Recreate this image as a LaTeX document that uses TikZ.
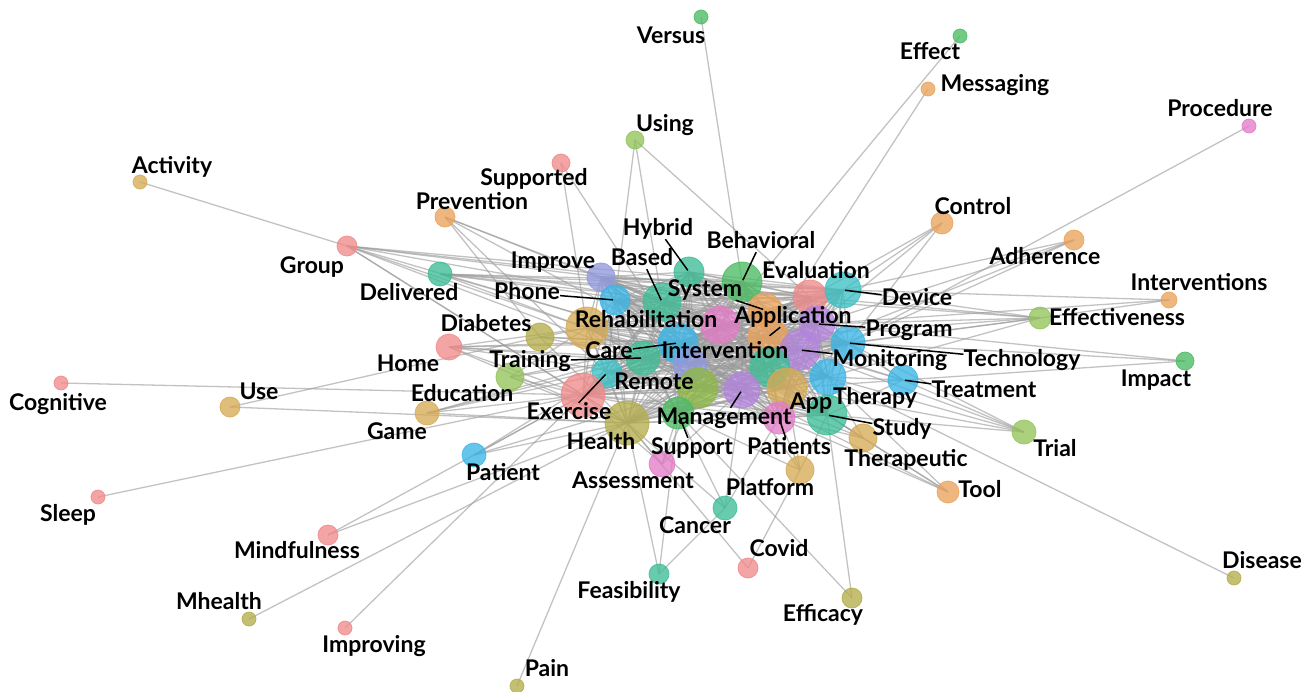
\documentclass[tikz,border=0pt]{standalone}
\usepackage{fontspec}
\setmainfont{Lato}
\pgfdeclarelayer{bg}
\pgfsetlayers{bg,main}
\definecolor{cred}{HTML}{F08A8A}
\definecolor{corange}{HTML}{EBA35C}
\definecolor{cmust}{HTML}{D6AA55}
\definecolor{colive}{HTML}{B3AD4C}
\definecolor{clime}{HTML}{93C35A}
\definecolor{cgreenol}{HTML}{8DB845}
\definecolor{cgreen}{HTML}{4CBB63}
\definecolor{cteal}{HTML}{3DBD96}
\definecolor{ccyt}{HTML}{3CC0C4}
\definecolor{ccyan}{HTML}{3BB5E6}
\definecolor{clav}{HTML}{9199DE}
\definecolor{cpurp}{HTML}{B384DD}
\definecolor{cpink}{HTML}{E37CC6}
\definecolor{cedge}{HTML}{9A9A9A}
\tikzset{
  vtx/.style={circle, inner sep=0pt, fill opacity=0.78, draw opacity=0.85, line width=0.8pt},
  edge/.style={draw=cedge, line width=1.3pt, opacity=0.6},
  lab/.style={inner sep=0pt, text height=16.5pt, text depth=3.5pt, font=\fontsize{23}{23}\selectfont\bfseries, text=black},
  leader/.style={draw=black, line width=1.5pt, shorten >=2pt}
}
\newcommand\vtx[5]{\node[vtx, minimum size=#4*2pt, fill=#5, draw=#5] (#1) at (#2,#3) {};}
\begin{document}
\begin{tikzpicture}[x=1pt,y=-1pt]
\useasboundingbox (0,0) rectangle (1311,691);
% core nodes
\vtx{improve}{601}{277}{14}{clav}
\vtx{phone}{615}{300}{15}{ccyan}
\vtx{based}{662}{302}{19}{cteal}
\vtx{hybrid}{689}{272}{15}{cteal}
\vtx{behav}{742}{282}{20}{cgreen}
\vtx{evalu}{810}{297}{17}{cred}
\vtx{device}{843}{290}{18}{ccyt}
\vtx{system}{765}{310}{17}{corange}
\vtx{pinka}{720}{325}{19}{cpink}
\vtx{program}{817}{324}{18}{cpurp}
\vtx{appl}{768}{337}{20}{corange}
\vtx{techn}{848}{343}{17}{ccyan}
\vtx{monit}{800}{350}{20}{cpurp}
\vtx{rehab}{587}{328}{21}{cmust}
\vtx{care}{678}{343}{20}{ccyan}
\vtx{nlav}{690}{365}{17}{clav}
\vtx{training}{643}{358}{17}{cteal}
\vtx{nteal}{770}{367}{20}{cteal}
\vtx{therapy}{828}{377}{18}{ccyan}
\vtx{treat}{903}{380}{15}{ccyan}
\vtx{exer}{607}{373}{15}{ccyt}
\vtx{reda}{583}{395}{22}{cred}
\vtx{nlime}{698}{388}{20}{cgreenol}
\vtx{manage}{742}{390}{18}{cpurp}
\vtx{nmust}{787}{388}{20}{cmust}
\vtx{study}{827}{415}{20}{cteal}
\vtx{patients}{779}{418}{16}{cpink}
\vtx{support}{678}{413}{16}{cgreen}
\vtx{health}{627}{423}{22}{colive}
\vtx{therap}{863}{438}{14}{cmust}
\vtx{platform}{800}{470}{14}{cmust}
\vtx{assess}{662}{464}{13}{cpink}
\vtx{cancer}{725}{508}{12}{cteal}
\vtx{diab}{540}{337}{14}{colive}
\vtx{home}{449}{347}{13}{cred}
\vtx{educ}{510}{377}{14}{clime}
\vtx{deliv}{440}{274}{12}{cteal}
\vtx{group}{347}{246}{10}{cred}
\vtx{game}{427}{413}{12}{cmust}
\vtx{patient}{474}{455}{12}{ccyan}
% outer nodes
\vtx{effective}{1040}{318}{11}{clime}
\vtx{control}{942}{223}{11}{corange}
\vtx{adher}{1074}{240}{10}{corange}
\vtx{interv}{1169}{300}{8}{corange}
\vtx{impact}{1185}{361}{9}{cgreen}
\vtx{trial}{1024}{432}{12}{clime}
\vtx{tool}{948}{492}{11}{corange}
\vtx{disease}{1234}{578}{7}{colive}
\vtx{efficacy}{852}{598}{10}{colive}
\vtx{covid}{748}{568}{10}{cred}
\vtx{feas}{659}{574}{10}{cteal}
\vtx{pain}{517}{686}{7}{colive}
\vtx{improving}{345}{628}{7}{cred}
\vtx{mhealth}{249}{619}{7}{colive}
\vtx{mindful}{328}{535}{10}{cred}
\vtx{sleep}{98}{497}{7}{cred}
\vtx{use}{230}{407}{10}{cmust}
\vtx{cognitive}{61}{383}{7}{cred}
\vtx{activity}{140}{182}{7}{cmust}
\vtx{prevention}{445}{217}{10}{corange}
\vtx{supported}{561}{163}{9}{cred}
\vtx{using}{635}{140}{9}{clime}
\vtx{versus}{701}{17}{7}{cgreen}
\vtx{effect}{960}{36}{7}{cgreen}
\vtx{messaging}{928}{89}{7}{corange}
\vtx{procedure}{1249}{126}{7}{cpink}
% edges
\begin{pgfonlayer}{bg}
\def\corelist{improve,phone,based,hybrid,behav,system,appl,evalu,device,program,monit,techn,therapy,nmust,nteal,manage,patients,study,support,health,nlime,nlav,care,pinka,training,exer,reda,rehab}
\foreach \a [count=\i] in \corelist {
  \foreach \b [count=\j] in \corelist {
    \ifnum\j>\i \draw[edge] (\a.center) -- (\b.center); \fi
  }
}
\foreach \a/\b in {group/based, group/rehab, group/care, group/health, group/evalu, group/behav, group/improve, group/reda, group/training,
  deliv/behav, deliv/device, deliv/evalu, deliv/system, deliv/rehab, deliv/care, deliv/program, deliv/effective,
  home/rehab, home/care, home/training, home/reda, home/health, home/nlav, home/manage, home/appl,
  educ/reda, educ/health, educ/care, educ/training, educ/rehab,
  diab/rehab, diab/care, diab/health, diab/training, diab/monit,
  game/reda, game/health, game/care, game/training, game/exer,
  patient/health, patient/reda, patient/exer, patient/care, patient/nlime,
  prevention/based, prevention/diab, prevention/exer, prevention/improve, prevention/care,
  control/device, control/evalu, control/techn, control/program,
  adher/device, adher/program, adher/techn, adher/monit,
  effective/device, effective/program, effective/techn, effective/monit, effective/appl, effective/evalu, effective/therapy,
  interv/effective, interv/program, interv/device,
  impact/techn, impact/treat, impact/program,
  trial/therapy, trial/study, trial/techn, trial/monit, trial/treat, trial/nmust,
  tool/study, tool/therap, tool/patients, tool/therapy, tool/manage,
  treat/techn, treat/therapy, treat/study, treat/monit, treat/nmust, treat/program, treat/appl,
  therap/study, therap/patients, therap/manage, therap/therapy, therap/nmust,
  platform/patients, platform/study, platform/support, platform/nmust, platform/manage,
  cancer/health, cancer/patients, cancer/support, cancer/manage,
  assess/health, assess/support, assess/reda, assess/nlime, assess/manage,
  versus/behav, effect/pinka, messaging/appl, procedure/techn,
  using/phone, using/based, using/evalu, supported/rehab, supported/care,
  activity/group, cognitive/reda, use/diab, use/health, sleep/reda,
  mindful/patient, mindful/health, mhealth/health, improving/reda, pain/health,
  feas/health, feas/support, feas/cancer, covid/platform, covid/health,
  efficacy/study, efficacy/support, disease/therapy}
  \draw[edge] (\a.center) -- (\b.center);
\end{pgfonlayer}
% labels
\node[lab] (lversus) at (671,37) {Versus};
\node[lab] (leffect) at (930,53) {Effect};
\node[lab] (lmessaging) at (995,85) {Messaging};
\node[lab] (lprocedure) at (1220,110) {Procedure};
\node[lab] (lusing) at (665,125) {Using};
\node[lab] (lsupported) at (534,179) {Supported};
\node[lab] (lactivity) at (172,167) {Activity};
\node[lab] (lprevention) at (472,203) {Prevention};
\node[lab] (lcontrol) at (973,208) {Control};
\node[lab] (ladher) at (1045,258) {Adherence};
\node[lab] (lgroup) at (312,267) {Group};
\node[lab] (linterv) at (1199,284) {Interventions};
\node[lab] (leffective) at (1117,319) {Effectiveness};
\node[lab] (limpact) at (1156,380) {Impact};
\node[lab] (ldeliv) at (409,294) {Delivered};
\node[lab] (limprove) at (553,262) {Improve};
\node[lab] (lbased) at (642,259) {Based};
\node[lab] (lhybrid) at (658,229) {Hybrid};
\node[lab] (lbehav) at (761,242) {Behavioral};
\node[lab] (levalu) at (816,272) {Evaluation};
\node[lab] (ldevice) at (917,299) {Device};
\node[lab] (lsystem) at (705,290) {System};
\node[lab] (lphone) at (527,293) {Phone};
\node[lab] (lrehab) at (646,321) {Rehabilitation};
\node[lab] (lappl) at (793,317) {Application};
\node[lab] (lprogram) at (909,330) {Program};
\node[lab] (ldiab) at (486,325) {Diabetes};
\node[lab] (ltraining) at (530,361) {Training};
\node[lab] (lcare) at (609,352) {Care};
\node[lab] (lintervention) at (725,352) {Intervention};
\node[lab] (lmonit) at (890,360) {Monitoring};
\node[lab] (ltechn) at (1022,360) {Technology};
\node[lab] (lhome) at (408,365) {Home};
\node[lab] (lremote) at (654,383) {Remote};
\node[lab] (ltreat) at (984,391) {Treatment};
\node[lab] (ltherapy) at (875,398) {Therapy};
\node[lab] (luse) at (259,393) {Use};
\node[lab] (lcognitive) at (58,404) {Cognitive};
\node[lab] (leduc) at (462,395) {Education};
\node[lab] (lexer) at (569,413) {Exercise};
\node[lab] (lgame) at (397,433) {Game};
\node[lab] (lapp) at (811,403) {App};
\node[lab] (lmanage) at (724,418) {Management};
\node[lab] (lstudy) at (902,429) {Study};
\node[lab] (lhealth) at (601,443) {Health};
\node[lab] (lsupport) at (692,448) {Support};
\node[lab] (lpatients) at (789,448) {Patients};
\node[lab] (ltherap) at (906,460) {Therapeutic};
\node[lab] (ltrial) at (1055,450) {Trial};
\node[lab] (lpatient) at (503,474) {Patient};
\node[lab] (lassess) at (633,482) {Assessment};
\node[lab] (lplatform) at (770,489) {Platform};
\node[lab] (ltool) at (980,491) {Tool};
\node[lab] (lsleep) at (68,515) {Sleep};
\node[lab] (lcancer) at (695,527) {Cancer};
\node[lab] (lmindful) at (297,552) {Mindfulness};
\node[lab] (lcovid) at (779,550) {Covid};
\node[lab] (ldisease) at (1262,562) {Disease};
\node[lab] (lfeas) at (629,592) {Feasibility};
\node[lab] (lmhealth) at (219,603) {Mhealth};
\node[lab] (lefficacy) at (823,615) {Efficacy};
\node[lab] (limproving) at (374,646) {Improving};
\node[lab] (lpain) at (547,670) {Pain};
% leader lines
\foreach \l/\n in {lphone/phone, lbased/based, lhybrid/hybrid, lbehav/behav, lsystem/system,
  lappl/appl, ldevice/device, lprogram/program, lmonit/monit, ltechn/techn, ltreat/treat,
  lcare/care, ltraining/training, lexer/exer, lmanage/manage, lsupport/support,
  lpatients/patients, lstudy/study}
  \draw[leader] (\l) -- (\n.center);
\end{tikzpicture}
\end{document}
